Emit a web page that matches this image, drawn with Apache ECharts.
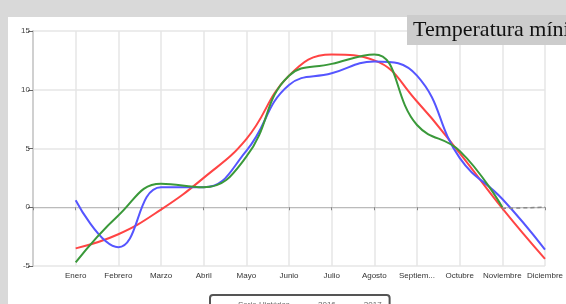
<!DOCTYPE html>
<html>
<head>
<meta charset="utf-8">
<script src="https://cdn.jsdelivr.net/npm/echarts@6/dist/echarts.min.js"></script>
<style>
  html, body { margin: 0; padding: 0; background: #d9d9d9; overflow: hidden; }
  #panel { position: absolute; left: 8px; top: 17px; width: 558px; height: 287px; background: #fff; }
  #chart { position: absolute; left: 0; top: 0; width: 566px; height: 304px; }
</style>
</head>
<body>
<div id="panel"></div>
<div id="chart"></div>
<script>
// meses (el primero vacío deja el hueco antes de Enero)
var meses = ['', 'Enero', 'Febrero', 'Marzo', 'Abril', 'Mayo', 'Junio', 'Julio',
  'Agosto', 'Septiembre', 'Octubre', 'Noviembre', 'Diciembre'];

var serieHistorica = [null, -3.5, -2.3, -0.2, 2.5, 5.8, 11.2, 13.0, 12.5, 9.0, 4.6, -0.1, -4.4];
var datos2016 = [null, 0.6, -3.4, 1.7, 1.7, 4.8, 10.4, 11.4, 12.4, 11.2, 4.2, 0.7, -3.6];
var datos2017 = [null, -4.7, -0.7, 2.0, 1.7, 4.3, 11.2, 12.2, 13.0, 7.0, 4.8, 0.0, null];
var prevision2017 = [null, null, null, null, null, null, null, null, null, null, null, -0.1, 0.0];

var yTicks = { min: -5, max: 15, interval: 5 };

var myChart = echarts.init(document.getElementById('chart'));

var lineaBase = function (name, data, color) {
  return {
    name: name,
    type: 'line',
    data: data,
    smooth: 0.45,
    showSymbol: false,
    connectNulls: false,
    lineStyle: { width: 2, color: color },
    itemStyle: { color: color }
  };
};

var option = {
  animation: false,
  title: {
    text: 'Temperatura mínima',
    left: 407,
    top: 15,
    padding: [4, 6, 3, 6],
    backgroundColor: '#cccccc',
    textStyle: { fontFamily: 'Liberation Serif', fontSize: 22, lineHeight: 23, fontWeight: 'normal', color: '#111' }
  },
  legend: {
    data: ['Serie Histórica', '2016', '2017'],
    left: 210,
    top: 295,
    padding: [6, 8],
    itemGap: 8,
    itemWidth: 15,
    itemHeight: 2,
    icon: 'rect',
    borderColor: '#555',
    borderWidth: 2,
    borderRadius: 3,
    backgroundColor: '#fff',
    textStyle: { fontSize: 8, color: '#666' }
  },
  grid: { left: 33, right: 19, top: 31, bottom: 38 },
  xAxis: {
    type: 'category',
    data: meses,
    boundaryGap: false,
    axisLine: { lineStyle: { color: '#bbb', width: 1 } },
    axisTick: { length: 3, interval: 0, lineStyle: { color: '#888' } },
    axisLabel: {
      interval: 0, fontSize: 8, color: '#333', margin: 6,
      width: 41, overflow: 'truncate', ellipsis: '...'
    },
    splitLine: { show: true, interval: 0, lineStyle: { color: '#e6e6e6', width: 1.5 } }
  },
  yAxis: {
    type: 'value',
    min: yTicks.min,
    max: yTicks.max,
    interval: yTicks.interval,
    axisLine: { show: true, lineStyle: { color: '#d0d0d0', width: 2 } },
    axisTick: { show: true, length: 5, lineStyle: { color: '#666' } },
    axisLabel: { fontSize: 8, color: '#444', margin: 3 },
    splitLine: { lineStyle: { color: '#e6e6e6', width: 1.5 } }
  },
  series: [
    lineaBase('Serie Histórica', serieHistorica, '#ff4444'),
    lineaBase('2016', datos2016, '#5555ff'),
    lineaBase('2017', datos2017, '#3a993a'),
    {
      name: 'Previsión',
      type: 'line',
      data: prevision2017,
      smooth: true,
      showSymbol: false,
      lineStyle: { width: 1.5, color: '#888', type: [4, 3] }
    }
  ]
};

myChart.setOption(option);
</script>
</body>
</html>
